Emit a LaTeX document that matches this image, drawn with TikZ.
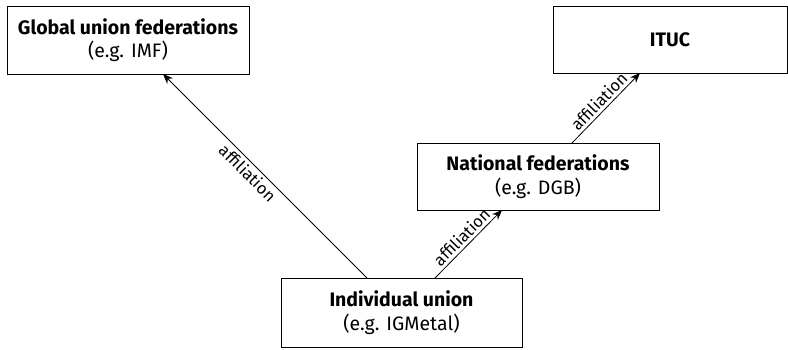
\documentclass[tikz,border=0pt]{standalone}
\usepackage{fontspec}
\setmainfont{Fira Sans}
\usetikzlibrary{arrows.meta}
\begin{document}
\begin{tikzpicture}[x=1pt,y=-1pt,
  box/.style={draw, line width=0.9pt, inner sep=0pt, align=center, font=\fontsize{19.5}{23.5}\selectfont},
  conn/.style={line width=0.8pt, -{Stealth[length=10pt,width=8pt]}},
  lab/.style={sloped, font=\fontsize{16.5}{18}\selectfont, inner sep=3pt}]
\useasboundingbox (0,0) rectangle (788,349);
\node[box, minimum width=242pt, minimum height=68pt] (gu) at (128,40) {\textbf{Global union federations}\\(e.g. IMF)};
\node[box, minimum width=234pt, minimum height=67pt] (it) at (670,39.5) {\textbf{ITUC}};
\node[box, minimum width=242pt, minimum height=67pt] (nf) at (538,176.5) {\textbf{National federations}\\(e.g. DGB)};
\node[box, minimum width=241pt, minimum height=69pt] (iu) at (401.5,312.5) {\textbf{Individual union}\\(e.g. IGMetal)};
\coordinate (a1s) at (367,278);
\coordinate (a1e) at (163,74);
\coordinate (a2s) at (435,278);
\coordinate (a2e) at (502,210);
\coordinate (a3s) at (572,143);
\coordinate (a3e) at (640,73);
\draw[conn] (a1s) -- node[lab, below, pos=0.55] {affiliation} (a1e);
\draw[conn] (a2s) -- node[lab, above] {affiliation} (a2e);
\draw[conn] (a3s) -- node[lab, above] {affiliation} (a3e);
\end{tikzpicture}
\end{document}
